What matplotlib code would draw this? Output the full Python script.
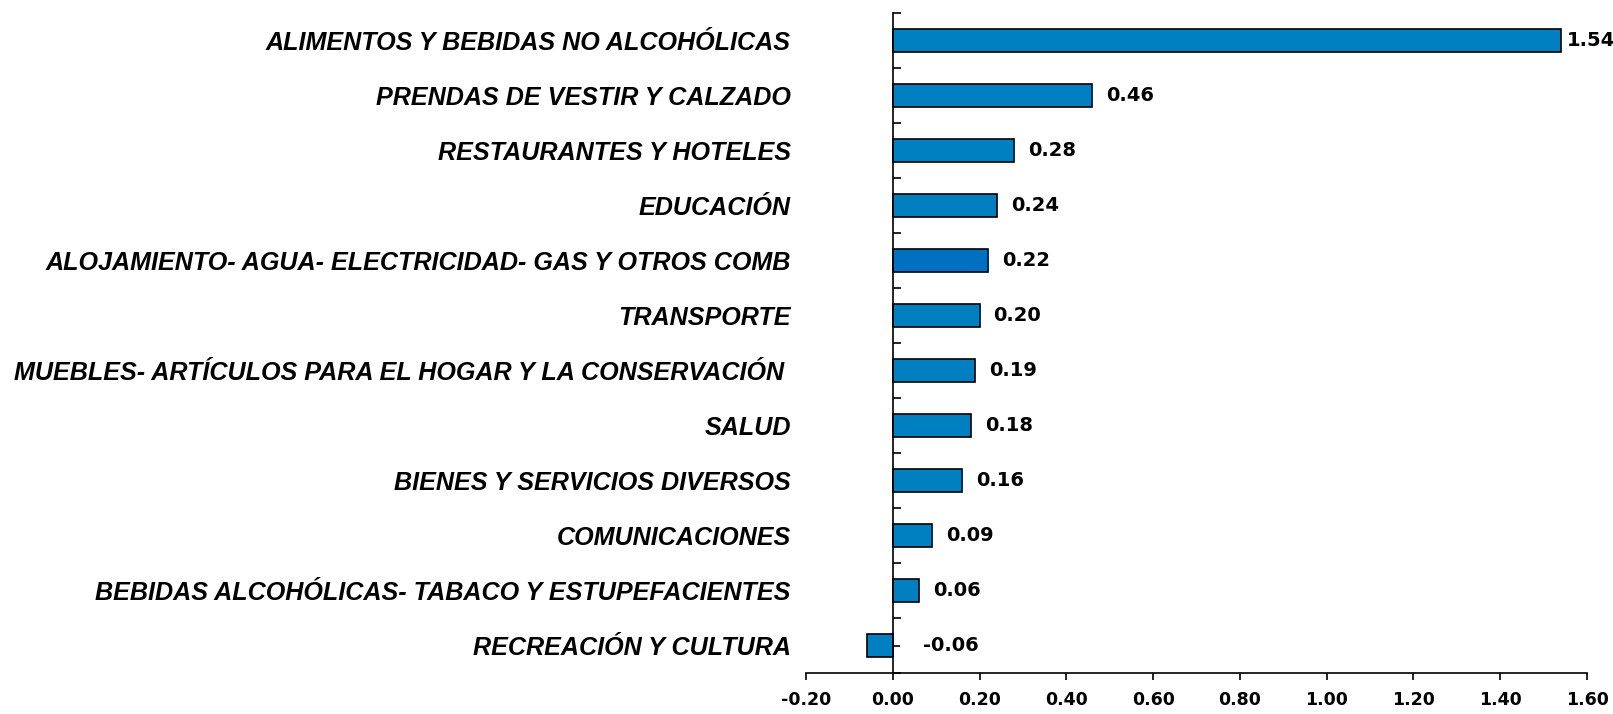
import matplotlib
matplotlib.use("Agg")
import matplotlib.pyplot as plt
from matplotlib.ticker import FixedLocator, FuncFormatter

categories = [
    "ALIMENTOS Y BEBIDAS NO ALCOHÓLICAS",
    "PRENDAS DE VESTIR Y CALZADO",
    "RESTAURANTES Y HOTELES",
    "EDUCACIÓN",
    "ALOJAMIENTO- AGUA- ELECTRICIDAD- GAS Y OTROS COMB",
    "TRANSPORTE",
    "MUEBLES- ARTÍCULOS PARA EL HOGAR Y LA CONSERVACIÓN ",
    "SALUD",
    "BIENES Y SERVICIOS DIVERSOS",
    "COMUNICACIONES",
    "BEBIDAS ALCOHÓLICAS- TABACO Y ESTUPEFACIENTES",
    "RECREACIÓN Y CULTURA",
]
values = [1.54, 0.46, 0.28, 0.24, 0.22, 0.20, 0.19, 0.18, 0.16, 0.09, 0.06, -0.06]
value_labels = ["1.54", "0.46", "0.28", "0.24", "0.22", "0.20", "0.19", "0.18", "0.16", "0.09", "0.06", "-0.06"]
x_ticks = [-0.20, 0.00, 0.20, 0.40, 0.60, 0.80, 1.00, 1.20, 1.40, 1.60]

bar_color = "#0080C0"
highlight_color = "#0070C0"
colors = [highlight_color if c.startswith("ALOJAMIENTO") else bar_color for c in categories]

W, H, DPI = 1613, 714, 100
fig = plt.figure(figsize=(W / DPI, H / DPI), dpi=DPI, facecolor="white")
ax = fig.add_axes([806 / W, 1 - 673 / H, (1587 - 806) / W, (673 - 13) / H])

ypos = list(range(len(categories)))
ax.barh(ypos, values, height=0.42, color=colors, edgecolor="black", linewidth=1.2, zorder=2)

ax.set_xlim(-0.2, 1.6)
ax.set_ylim(len(categories) - 0.5, -0.5)

for s in ["top", "right"]:
    ax.spines[s].set_visible(False)
ax.spines["left"].set_position(("data", 0))
ax.spines["left"].set_linewidth(1.2)
ax.spines["bottom"].set_linewidth(1.2)

ax.set_xticks(x_ticks)
ax.xaxis.set_major_formatter(FuncFormatter(lambda v, p: f"{v:.2f}"))
ax.tick_params(axis="x", direction="out", length=5, width=1.2, pad=8,
               labelsize=12.5)
for lab in ax.get_xticklabels():
    lab.set_fontfamily("DejaVu Sans")
    lab.set_fontweight("bold")

ax.set_yticks(ypos)
ax.yaxis.set_minor_locator(FixedLocator([i - 0.5 for i in range(len(categories) + 1)]))
pad_pt = (891 - 789) / DPI * 72
ax.tick_params(axis="y", which="major", direction="in", length=5, width=1.2, pad=pad_pt)
ax.tick_params(axis="y", which="minor", direction="in", length=6, width=1.2)
ax.set_yticklabels(categories, fontsize=18.1, fontweight="bold", fontstyle="italic",
                   fontfamily="Liberation Sans")

vmax = max(values)
for y, v, t in zip(ypos, values, value_labels):
    off = 6 if v == vmax else (30 if v < 0 else 14)
    ax.annotate(t, xy=(max(v, 0), y), xytext=(off * 72 / DPI, 0), textcoords="offset points",
                ha="left", va="center", fontsize=14, fontweight="bold",
                fontfamily="DejaVu Sans", annotation_clip=False,
                bbox=dict(boxstyle="square,pad=0.1", fc="white", ec="none"), zorder=3)

fig.savefig("out.png", dpi=DPI, facecolor="white")
